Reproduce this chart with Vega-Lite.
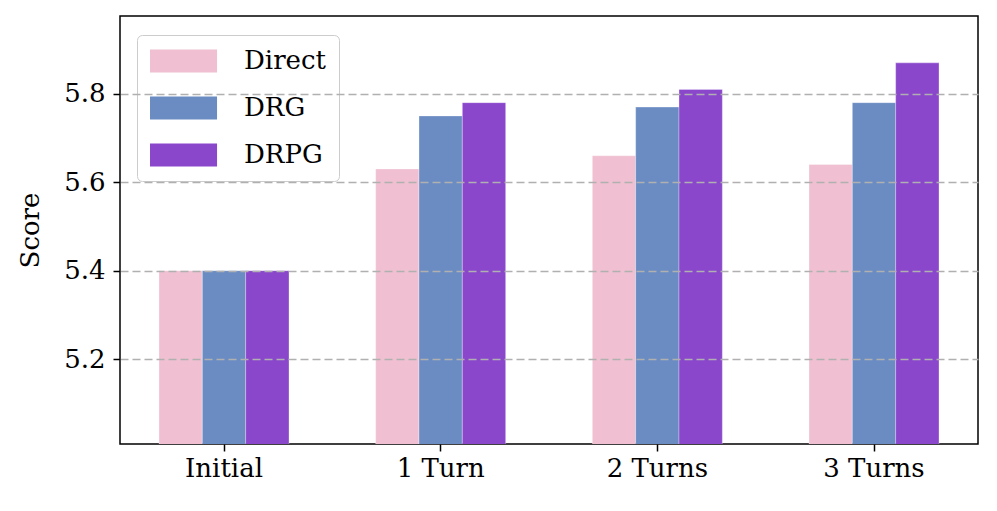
{
  "$schema": "https://vega.github.io/schema/vega-lite/v6.json",
  "width": 858,
  "height": 428,
  "autosize": {"type": "none"},
  "padding": {"left": 120, "top": 16, "right": 19, "bottom": 67},
  "config": {
    "view": {"stroke": "black", "strokeWidth": 1.5},
    "font": "DejaVu Serif"
  },
  "data": {
    "values": [
      {"stage": "Initial", "method": "Direct", "score": 5.40},
      {"stage": "Initial", "method": "DRG", "score": 5.40},
      {"stage": "Initial", "method": "DRPG", "score": 5.40},
      {"stage": "1 Turn", "method": "Direct", "score": 5.63},
      {"stage": "1 Turn", "method": "DRG", "score": 5.75},
      {"stage": "1 Turn", "method": "DRPG", "score": 5.78},
      {"stage": "2 Turns", "method": "Direct", "score": 5.66},
      {"stage": "2 Turns", "method": "DRG", "score": 5.77},
      {"stage": "2 Turns", "method": "DRPG", "score": 5.81},
      {"stage": "3 Turns", "method": "Direct", "score": 5.64},
      {"stage": "3 Turns", "method": "DRG", "score": 5.78},
      {"stage": "3 Turns", "method": "DRPG", "score": 5.87}
    ]
  },
  "mark": {"type": "bar", "clip": true, "stroke": "white", "strokeWidth": 0.6, "strokeOpacity": 0.5},
  "encoding": {
    "x": {
      "field": "stage",
      "type": "nominal",
      "sort": ["Initial", "1 Turn", "2 Turns", "3 Turns"],
      "scale": {"paddingInner": 0.4, "paddingOuter": 0.18},
      "axis": {
        "title": null,
        "labelAngle": 0,
        "labelFont": "DejaVu Serif",
        "labelFontSize": 26,
        "labelColor": "black",
        "tickColor": "black",
        "tickSize": 7,
        "tickWidth": 1.5,
        "domain": false,
        "labelPadding": 4
      }
    },
    "xOffset": {
      "field": "method",
      "type": "nominal",
      "sort": ["Direct", "DRG", "DRPG"],
      "scale": {"paddingInner": 0, "paddingOuter": 0}
    },
    "y": {
      "field": "score",
      "type": "quantitative",
      "scale": {"domain": [5.008, 5.976], "zero": false, "nice": false},
      "axis": {
        "values": [5.2, 5.4, 5.6, 5.8],
        "format": ".1f",
        "title": "Score",
        "titleFont": "DejaVu Serif",
        "titleFontSize": 26,
        "titleFontWeight": "normal",
        "titleColor": "black",
        "titlePadding": 20,
        "labelFont": "DejaVu Serif",
        "labelFontSize": 26,
        "labelColor": "black",
        "labelPadding": 8,
        "tickColor": "black",
        "tickSize": 7,
        "tickWidth": 1.5,
        "domain": false,
        "grid": true,
        "gridDash": [8, 4],
        "gridColor": "#b0b0b0",
        "gridWidth": 1.5,
        "zindex": 1
      }
    },
    "color": {
      "field": "method",
      "type": "nominal",
      "sort": ["Direct", "DRG", "DRPG"],
      "scale": {"domain": ["Direct", "DRG", "DRPG"], "range": ["#f0c0d2", "#6b8cc3", "#8a47cc"]},
      "legend": {
        "title": null,
        "orient": "none",
        "legendX": 17,
        "legendY": 19,
        "direction": "vertical",
        "labelFont": "DejaVu Serif",
        "labelFontSize": 26,
        "labelColor": "black",
        "symbolType": "M-1.13,-1H4.7V1H-1.13Z",
        "symbolSize": 529,
        "symbolStrokeWidth": 0,
        "symbolOpacity": 1,
        "labelOffset": 68,
        "rowPadding": 21,
        "padding": 13,
        "strokeColor": "#cccccc",
        "fillColor": "rgba(255,255,255,0.8)",
        "cornerRadius": 5
      }
    }
  }
}
